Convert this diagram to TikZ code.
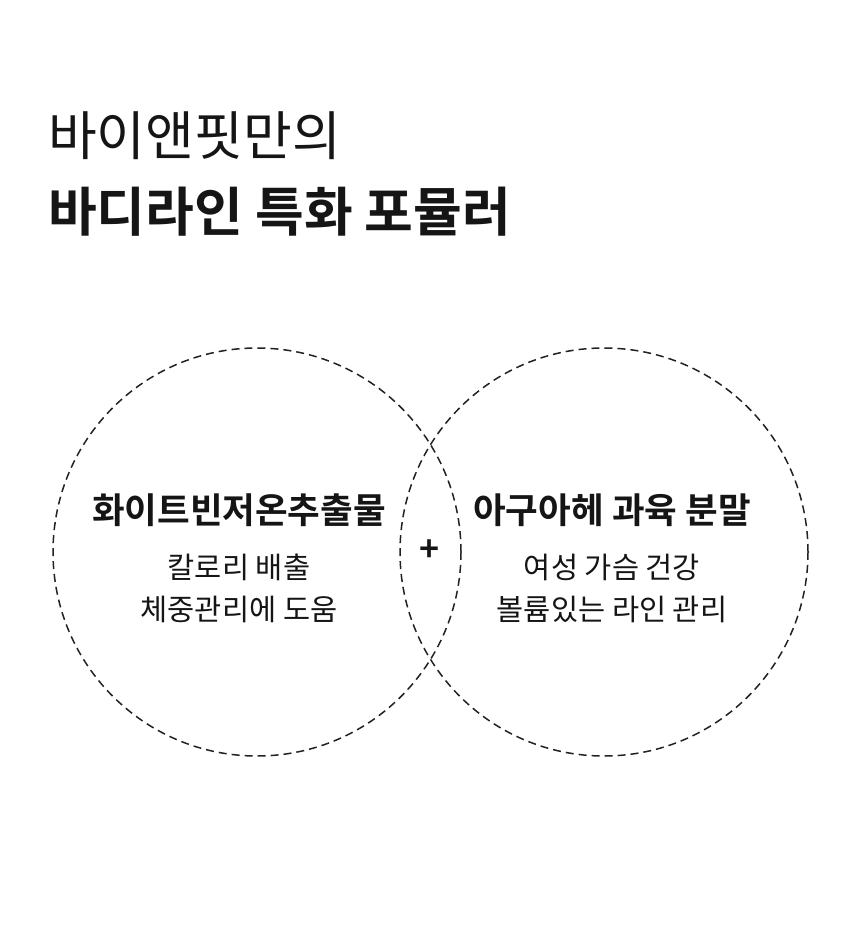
\documentclass[tikz,border=0pt]{standalone}
\usepackage{fontspec}
\usepackage{xcolor}
\usepackage{tikz}
\usetikzlibrary{positioning}
\newfontfamily\krfont{Noto Sans CJK KR}
\newfontfamily\krbold{Noto Sans CJK KR Bold}
\definecolor{InkBlack}{HTML}{151515}
\definecolor{RingGray}{HTML}{222222}

\begin{document}
\begin{tikzpicture}[
  x=1pt,y=-1pt,
  title/.style={anchor=west,inner sep=0pt,text=InkBlack,font=\krfont\fontsize{53}{60}\selectfont},
  titlebold/.style={title,font=\krbold\fontsize{53}{60}\selectfont},
  ring/.style={circle,draw=RingGray,line width=1.5pt,dash pattern=on 8pt off 5pt,minimum size=408pt,inner sep=0pt},
  head/.style={inner sep=0pt,text=InkBlack,font=\krbold\fontsize{35.5}{42}\selectfont},
  body/.style={inner sep=0pt,text=InkBlack,font=\krfont\fontsize{29.5}{35}\selectfont}
]
\useasboundingbox (0,0) rectangle (860,931);
% title
\node[title] (line1) at (48,136) {바이앤핏만의};
\node[titlebold] (line2) at (48,212) {바디라인 특화 포뮬러};
% two rings
\node[ring] (leftring) at (257,552) {};
\node[ring] (rightring) at (604,552) {};
\node[font=\krbold\fontsize{34}{40}\selectfont,text=InkBlack,inner sep=0pt] (plus) at (430,551) {+};
% left ring text
\node[head] (lefthead) at (239,510) {화이트빈저온추출물};
\node[body,below=27pt of lefthead] (leftone) {칼로리 배출};
\node[body,below=15pt of leftone] (lefttwo) {체중관리에 도움};
% right ring text
\node[head] (righthead) at (612,510) {아구아헤 과육 분말};
\node[body,below=27pt of righthead] (rightone) {여성 가슴 건강};
\node[body,below=15pt of rightone] (righttwo) {볼륨있는 라인 관리};
\end{tikzpicture}
\end{document}
